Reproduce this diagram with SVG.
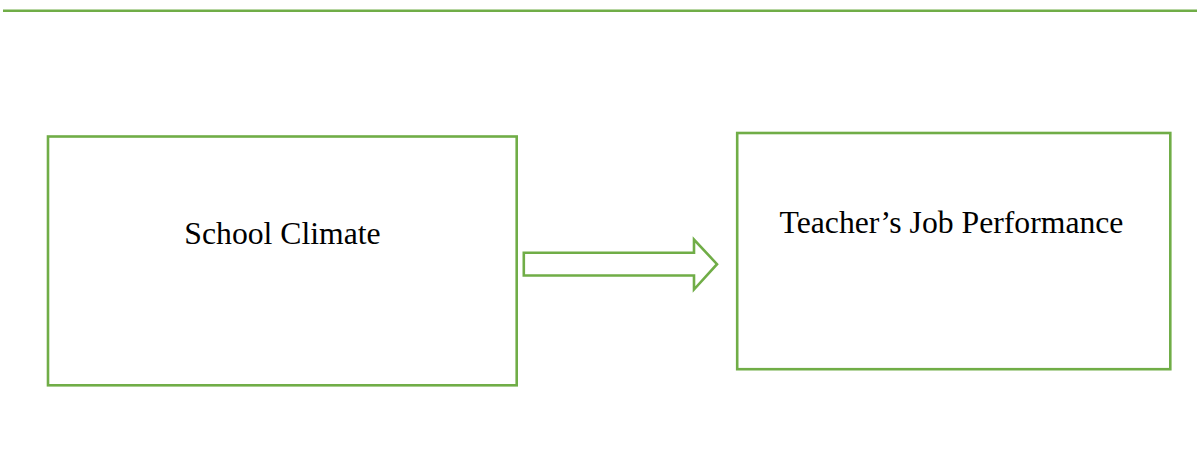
<svg xmlns="http://www.w3.org/2000/svg" width="1197" height="454" viewBox="0 0 1197 454">
<style>
.box{fill:#fff;stroke:#70AD47;stroke-width:2.6}
.lbl{font-family:"Liberation Serif","Times New Roman",serif;font-size:31.7px;fill:#000;text-anchor:middle}
</style>
<rect width="1197" height="454" fill="#fff"/>
<line x1="3" y1="10.8" x2="1197" y2="10.8" stroke="#70AD47" stroke-width="2.6"/>
<g id="school-climate">
<rect class="box" x="48" y="136.5" width="468.7" height="248.8"/>
<text class="lbl" x="282.5" y="244.3">School Climate</text>
</g>
<g id="teacher-job-performance">
<rect class="box" x="737.2" y="133" width="433.1" height="236.2"/>
<text class="lbl" x="951.5" y="233.3">Teacher’s Job Performance</text>
</g>
<g id="connectors">
<polygon points="523.8,252.8 694,252.8 694,239.5 717,264.2 694,289.5 694,275.5 523.8,275.5" fill="#fff" stroke="#70AD47" stroke-width="2.6"/>
</g>
</svg>
